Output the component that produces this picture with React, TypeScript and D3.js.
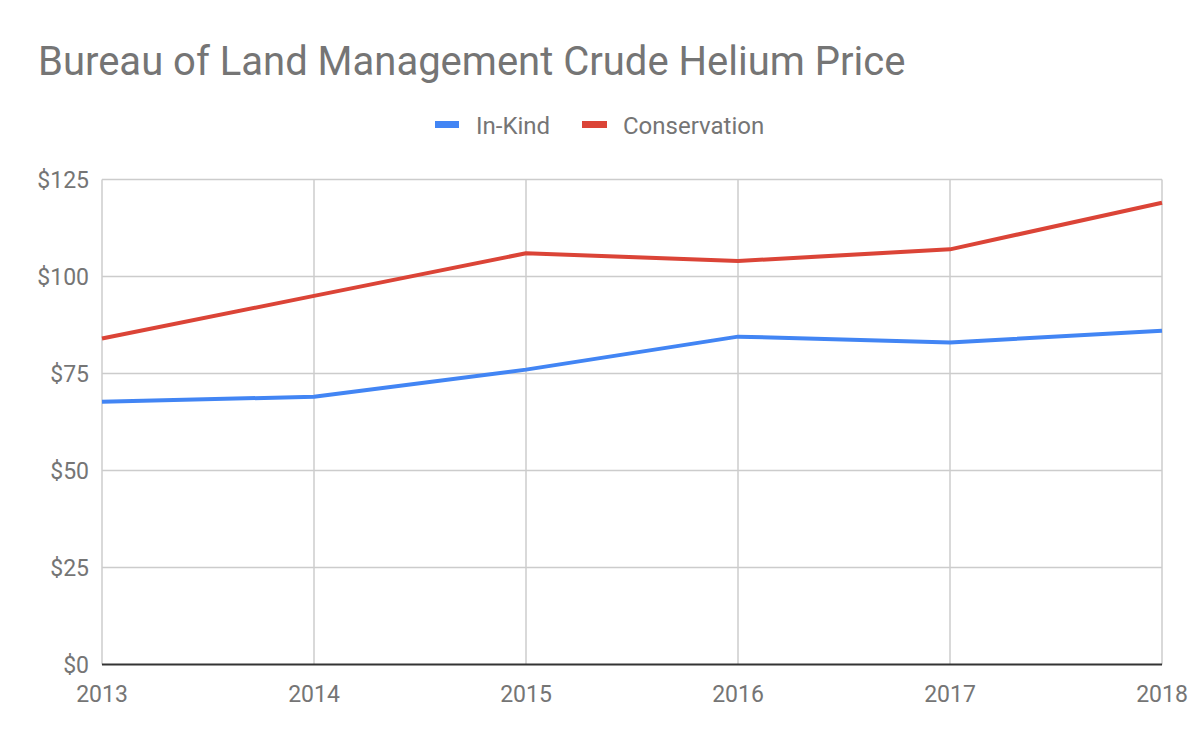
import * as d3 from "d3";

const years = ["2013", "2014", "2015", "2016", "2017", "2018"];
const inKind = [67.75, 69, 76, 84.5, 83, 86];
const conservation = [84, 95, 106, 104, 107, 119];
const yTicks = [0, 25, 50, 75, 100, 125];

const W = 1200;
const H = 744;
const left = 102;
const right = 1162;
const top = 179.5;
const bottom = 664.5;

export default function App() {
  const x = d3.scalePoint<string>().domain(years).range([left, right]);
  const y = d3.scaleLinear().domain([0, 125]).range([bottom, top]);
  const line = d3
    .line<number>()
    .x((_, i) => x(years[i])!)
    .y((d) => y(d));

  const series = [
    { name: "In-Kind", values: inKind, color: "#4285F4" },
    { name: "Conservation", values: conservation, color: "#DB4437" },
  ];

  return (
    <svg
      width={W}
      height={H}
      style={{ position: "absolute", left: 0, top: 0, fontFamily: "Roboto" }}
    >
      <rect width={W} height={H} fill="#fff" />
      <text x={38} y={75} fontSize={40} fill="#757575">
        Bureau of Land Management Crude Helium Price
      </text>

      {/* legend */}
      <rect x={435} y={121} width={24} height={7} fill="#4285F4" />
      <text x={476} y={134} fontSize={24} fill="#757575">In-Kind</text>
      <rect x={582} y={121} width={25} height={7} fill="#DB4437" />
      <text x={623} y={134} fontSize={24} fill="#757575">Conservation</text>

      {/* grid */}
      {yTicks.map((t) => (
        <g key={t}>
          {t > 0 && (
            <line x1={left} x2={right} y1={y(t)} y2={y(t)} stroke="#cccccc" strokeWidth={1.5} />
          )}
          <text x={89} y={y(t) + 8} fontSize={23} fill="#757575" textAnchor="end">
            ${t}
          </text>
        </g>
      ))}
      {years.map((yr) => (
        <g key={yr}>
          <line x1={x(yr)} x2={x(yr)} y1={top} y2={bottom} stroke="#cccccc" strokeWidth={1.5} />
          <text x={x(yr)} y={702} fontSize={23} fill="#757575" textAnchor="middle">
            {yr}
          </text>
        </g>
      ))}
      <line x1={left} x2={right} y1={y(0)} y2={y(0)} stroke="#333333" strokeWidth={2} />

      {series.map((s) => (
        <path
          key={s.name}
          d={line(s.values)!}
          fill="none"
          stroke={s.color}
          strokeWidth={4}
          strokeLinejoin="round"
        />
      ))}
    </svg>
  );
}
